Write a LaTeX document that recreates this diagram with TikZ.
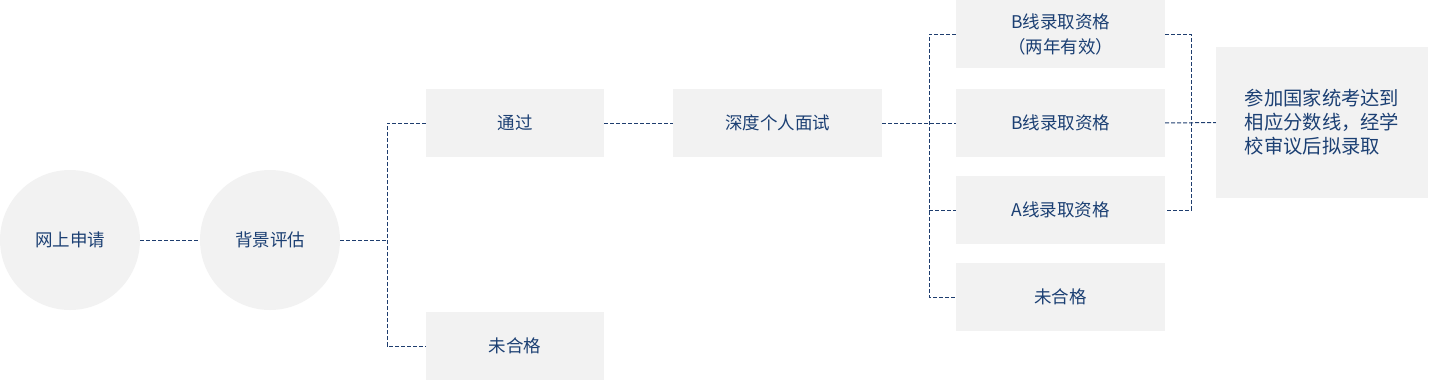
\documentclass[tikz,border=0pt]{standalone}
\usepackage{fontspec}
\setmainfont{Noto Sans CJK SC}
\definecolor{txt}{HTML}{1B3F73}
\definecolor{ln}{HTML}{1E3D6E}
\definecolor{bg}{HTML}{F2F2F2}
\tikzset{
  circ/.style={circle, fill=bg, minimum size=140pt, inner sep=0pt, text=txt, font=\fontsize{17.5}{22}\selectfont},
  stepbox/.style={rectangle, fill=bg, minimum width=178pt, minimum height=68pt, inner sep=0pt, text=txt, font=\fontsize{17.5}{22}\selectfont, align=center},
  rbox/.style={stepbox, minimum width=209pt},
  conn/.style={draw=ln, line width=1pt, dash pattern=on 4pt off 2pt},
}
\begin{document}
\begin{tikzpicture}[x=1pt,y=-1pt]
\useasboundingbox (0,0) rectangle (1429,381);
\node[circ] (apply) at (70,240) {网上申请};
\node[circ] (eval) at (270,240) {背景评估};
\node[stepbox] (pass) at (515,123) {通过};
\node[stepbox] (fail1) at (515,346) {未合格};
\node[rbox] (interview) at (777.5,123) {深度个人面试};
\node[rbox] (r1) at (1060.5,34) {B线录取资格\\[3pt]（两年有效）};
\node[rbox] (r2) at (1060.5,123) {B线录取资格};
\node[rbox] (r3) at (1060.5,210) {A线录取资格};
\node[rbox] (r4) at (1060.5,297) {未合格};
\node[rectangle, fill=bg, minimum width=212pt, minimum height=151pt, inner sep=0pt, text=txt,
      font=\fontsize{19.3}{24}\selectfont, align=left] (final) at (1322,122.5)
      {参加国家统考达到\\相应分数线，经学\\校审议后拟录取};
\coordinate (j1) at (387,240);
\coordinate (j2) at (929,123);
\coordinate (j3) at (1191,123);
\draw[conn] (apply) -- (eval);
\draw[conn] (eval) -- (j1);
\draw[conn] (pass.west) -- (pass.west -| j1) -- (fail1.west -| j1) -- (fail1.west);
\draw[conn] (pass) -- (interview);
\draw[conn] (interview) -- (r2);
\draw[conn] (r1.west) -- (r1.west -| j2) -- (r4.west -| j2) -- (r4.west);
\draw[conn] (r3.west -| j2) -- (r3.west);
\draw[conn] (r1.east) -- (r1.east -| j3) -- (r3.east -| j3) -- (r3.east);
\draw[conn] (r2) -- (final);
\end{tikzpicture}
\end{document}
